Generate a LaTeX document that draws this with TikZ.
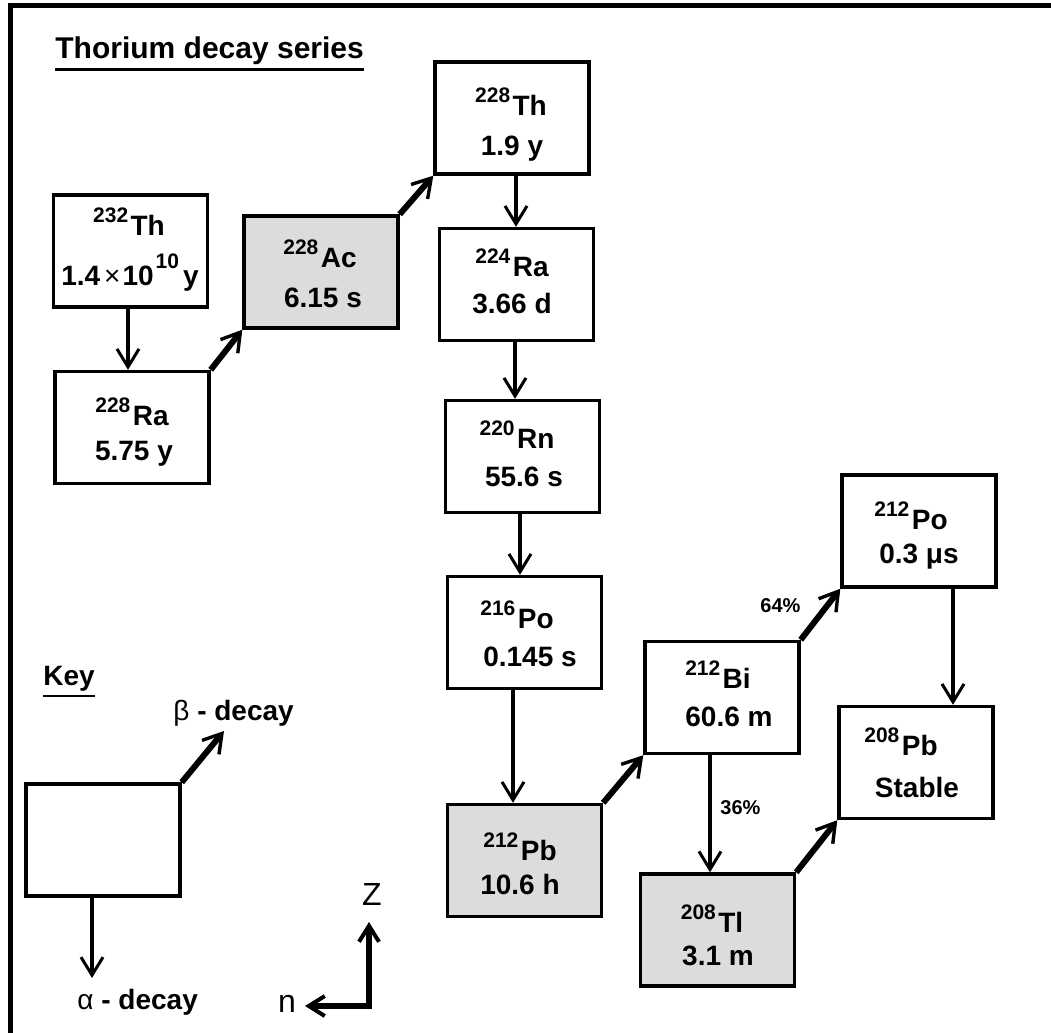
\documentclass[tikz,border=0pt]{standalone}
\usepackage{fontspec}
\setmainfont{Liberation Sans}
\usetikzlibrary{arrows.meta}
\definecolor{boxgrey}{RGB}{220,220,220}
\newcommand\isot[2]{\raisebox{6.5pt}{\fontsize{10.5}{12}\selectfont #1}\hspace{1.2pt}#2}
\begin{document}
\begin{tikzpicture}[x=0.5pt,y=-0.5pt,
  box/.style={draw, line width=1.7pt, minimum width=77pt, minimum height=56pt, inner sep=0pt},
  greybox/.style={box, fill=boxgrey},
  txt/.style={anchor=base, inner sep=0pt, font=\fontsize{14}{16}\selectfont\bfseries},
  lbl/.style={anchor=base west, inner sep=0pt},
  alphaarrow/.style={line width=1.6pt, -{Straight Barb[length=9pt,width=11pt,line width=1.5pt]}},
  betaarrow/.style={line width=3pt, -{Straight Barb[length=9pt,width=11pt,line width=1.7pt]}},
  axisarrow/.style={line width=2.6pt, {Straight Barb[length=8pt,width=10pt,line width=2pt]}-{Straight Barb[length=8pt,width=10pt,line width=2pt]}},
  ul/.style={line width=1.5pt}
]
\useasboundingbox (0,0) rectangle (1051,1033);
% frame (top and left only)
\draw[line width=2.3pt] (10.5,1033) -- (10.5,5.5) -- (1051,5.5);

% title
\node[lbl, font=\fontsize{15}{18}\selectfont\bfseries] (title) at (55,58) {Thorium decay series};
\draw[ul] ([yshift=-5.5pt]title.base west) -- ([yshift=-5.5pt]title.base east);

% boxes
\node[box]     (th232) at (130.5,251)   {};
\node[box]     (ra228) at (132,427.5)   {};
\node[greybox] (ac228) at (321,272)     {};
\node[box]     (th228) at (512,118)     {};
\node[box]     (ra224) at (516.5,284.5) {};
\node[box]     (rn220) at (522.5,456.5) {};
\node[box]     (po216) at (524.5,632.5) {};
\node[greybox] (pb212) at (524.5,860.5) {};
\node[box]     (bi212) at (722,697.5)   {};
\node[box]     (po212) at (919,531)     {};
\node[box]     (pb208) at (916,762.5)   {};
\node[greybox] (tl208) at (717.5,930)   {};
\node[box]     (key)   at (103,840)     {};

% box texts
\node[txt] (th232a) at (129,235) {\isot{232}{Th}};
\node[txt] (th232b) at (130,285) {1.4\hspace{2pt}{\mdseries ×}\hspace{1pt}10\hspace{1pt}\raisebox{8.5pt}{\fontsize{10.5}{12}\selectfont 10}\hspace{2pt}y};
\node[txt] (ra228a) at (132,425) {\isot{228}{Ra}};
\node[txt] (ra228b) at (134,460) {5.75 y};
\node[txt] (ac228a) at (320,267) {\isot{228}{Ac}};
\node[txt] (ac228b) at (323,307) {6.15 s};
\node[txt] (th228a) at (511,115) {\isot{228}{Th}};
\node[txt] (th228b) at (512,155) {1.9 y};
\node[txt] (ra224a) at (512,276) {\isot{224}{Ra}};
\node[txt] (ra224b) at (512,313) {3.66 d};
\node[txt] (rn220a) at (517,448) {\isot{220}{Rn}};
\node[txt] (rn220b) at (524,486) {55.6 s};
\node[txt] (po216a) at (517,628) {\isot{216}{Po}};
\node[txt] (po216b) at (530,666) {0.145 s};
\node[txt] (pb212a) at (520,860) {\isot{212}{Pb}};
\node[txt] (pb212b) at (520,894) {10.6 h};
\node[txt] (tl208a) at (712,932) {\isot{208}{Tl}};
\node[txt] (tl208b) at (718,965) {3.1 m};
\node[txt] (bi212a) at (718,688) {\isot{212}{Bi}};
\node[txt] (bi212b) at (729,726) {60.6 m};
\node[txt] (po212a) at (911,529) {\isot{212}{Po}};
\node[txt] (po212b) at (919,563) {0.3 μs};
\node[txt] (pb208a) at (901,755) {\isot{208}{Pb}};
\node[txt] (pb208b) at (917,797) {Stable};

% branch labels
\node[lbl, font=\fontsize{10}{12}\selectfont\bfseries] (p64) at (760,612) {64\%};
\node[lbl, font=\fontsize{10}{12}\selectfont\bfseries] (p36) at (720,814) {36\%};

% alpha decays (vertical)
\coordinate (x128) at (128,0);
\coordinate (x516) at (516,0);
\coordinate (x515) at (515,0);
\coordinate (x520) at (520,0);
\coordinate (x513) at (513,0);
\coordinate (x710) at (710,0);
\coordinate (x953) at (953,0);
\draw[alphaarrow] (th232.south -| x128) -- (ra228.north -| x128);
\draw[alphaarrow] (th228.south -| x516) -- (ra224.north -| x516);
\draw[alphaarrow] (ra224.south -| x515) -- (rn220.north -| x515);
\draw[alphaarrow] (rn220.south -| x520) -- (po216.north -| x520);
\draw[alphaarrow] (po216.south -| x513) -- (pb212.north -| x513);
\draw[alphaarrow] (bi212.south -| x710) -- (tl208.north -| x710);
\draw[alphaarrow] (po212.south -| x953) -- (pb208.north -| x953);

% beta decays (diagonal)
\draw[betaarrow] (ra228.north east) -- (ac228.south west);
\draw[betaarrow] (ac228.north east) -- (th228.south west);
\draw[betaarrow] (pb212.north east) -- (bi212.south west);
\draw[betaarrow] (bi212.north east) -- (po212.south west);
\draw[betaarrow] (tl208.north east) -- (pb208.south west);

% key
\node[lbl, font=\fontsize{14}{16}\selectfont\bfseries] (keyt) at (43,685) {Key};
\draw[line width=1.3pt] ([yshift=-5.5pt]keyt.base west) -- ([yshift=-5.5pt]keyt.base east);
\coordinate (kb) at (224,731);
\coordinate (ka) at (92,978);
\draw[betaarrow] (key.north east) -- (kb);
\draw[alphaarrow] (key.south -| ka) -- (ka);
\node[lbl, font=\fontsize{14}{16}\selectfont\bfseries] (betal) at (173,720) {{\mdseries β} - decay};
\node[lbl, font=\fontsize{14}{16}\selectfont\bfseries] (alphal) at (77,1009) {{\mdseries α} - decay};

% axes
\coordinate (corner) at (369,1006);
\coordinate (ztip) at (369,922);
\coordinate (ntip) at (305,1006);
\draw[axisarrow, line join=miter] (ztip) -- (corner) -- (ntip);
\node[anchor=base, inner sep=0pt, font=\fontsize{16}{18}\selectfont] (zl) at (372,905) {Z};
\node[anchor=base, inner sep=0pt, font=\fontsize{16}{18}\selectfont] (nl) at (287,1012) {n};
\end{tikzpicture}
\end{document}
